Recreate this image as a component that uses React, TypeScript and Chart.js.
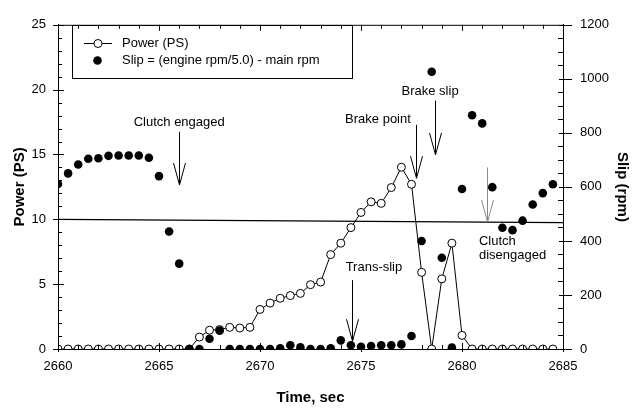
import React, { useEffect, useRef } from "react";
import { Chart, registerables } from "chart.js";

Chart.register(...registerables);

// ---- data ----
const times = [
  2660, 2660.5, 2661, 2661.5, 2662, 2662.5, 2663, 2663.5, 2664, 2664.5,
  2665, 2665.5, 2666, 2666.5, 2667, 2667.5, 2668, 2668.5, 2669, 2669.5,
  2670, 2670.5, 2671, 2671.5, 2672, 2672.5, 2673, 2673.5, 2674, 2674.5,
  2675, 2675.5, 2676, 2676.5, 2677, 2677.5, 2678, 2678.5, 2679, 2679.5,
  2680, 2680.5, 2681, 2681.5, 2682, 2682.5, 2683, 2683.5, 2684, 2684.5,
];
const powerPS = [
  0, 0, 0, 0, 0, 0, 0, 0, 0, 0,
  0, 0, 0, 0, 0.92, 1.45, 1.5, 1.67, 1.62, 1.67,
  3.05, 3.54, 3.91, 4.12, 4.29, 4.96, 5.16, 7.28, 8.16, 9.36,
  10.53, 11.35, 11.23, 12.45, 14.02, 12.7, 5.91, 0, 5.41, 8.16,
  1.05, 0, 0, 0, 0, 0, 0, 0, 0, 0,
];
const slipRpm = [
  611, 650, 683, 704, 706, 715, 716, 716, 716, 708,
  640, 435, 316, 0, 0, 38, 68, 0, 0, 0,
  0, 0, 3, 14, 6, 0, 0, 3, 32, 14,
  8, 11, 14, 14, 17, 48, 400, 1026, 338, 5,
  592, 865, 835, 599, 449, 440, 475, 535, 577, 610,
];
const refLineTimes = [2660, 2685];
const refLinePower = [10.0, 9.75];

const timeRange = [2660, 2685];
const powerRange = [0, 25];
const slipRange = [0, 1200];
const timeStep = 5;
const powerStep = 5;
const slipStep = 200;

const seriesLabels = ["Power (PS)", "Slip = (engine rpm/5.0) - main rpm"];
const axisTitles = { x: "Time, sec", y: "Power (PS)", y1: "Slip (rpm)" };

// annotations in data coordinates (time, power)
const notes = [
  { lines: ["Clutch engaged"], t: 2666, p: [17.5], align: "center", ax: 2666, a1: 16.75, a2: 12.65, color: "#000" },
  { lines: ["Brake point"], t: 2675.84, p: [17.74], align: "center", ax: 2677.72, a1: 17.29, a2: 13.17, color: "#000" },
  { lines: ["Brake slip"], t: 2678.42, p: [19.9], align: "center", ax: 2678.66, a1: 19.16, a2: 14.97, color: "#000" },
  { lines: ["Trans-slip"], t: 2675.64, p: [6.29], align: "center", ax: 2674.57, a1: 5.31, a2: 0.6, color: "#000" },
  { lines: ["Clutch", "disengaged"], t: 2680.84, p: [8.31, 7.19], align: "left", ax: 2681.22, a1: 14.0, a2: 9.8, color: "#8a8a8a" },
];

const FONT = "'Liberation Sans', Arial, Helvetica, sans-serif";

const decorPlugin = {
  id: "decor",
  afterDraw(chart: any) {
    const ctx = chart.ctx;
    const { left, right, top, bottom } = chart.chartArea;
    const xs = chart.scales.x;
    const ys = chart.scales.y;
    const y1 = chart.scales.y1;
    ctx.save();
    ctx.strokeStyle = "#000";
    ctx.lineWidth = 1;
    // top border
    ctx.beginPath();
    ctx.moveTo(left, top + 0.5);
    ctx.lineTo(right, top + 0.5);
    ctx.stroke();
    // x ticks (bottom + top)
    for (let v = timeRange[0]; v <= timeRange[1]; v += 1) {
      const px = Math.round(xs.getPixelForValue(v)) + 0.5;
      const major = (v - timeRange[0]) % timeStep === 0;
      ctx.beginPath();
      ctx.moveTo(px, bottom + (major ? 3 : 0));
      ctx.lineTo(px, bottom - (major ? 6 : 4));
      ctx.moveTo(px, top);
      ctx.lineTo(px, top + (major ? 6 : 4));
      ctx.stroke();
    }
    // left ticks
    for (let v = powerRange[0]; v <= powerRange[1]; v += 1) {
      const py = Math.round(ys.getPixelForValue(v)) + 0.5;
      const major = v % powerStep === 0;
      ctx.beginPath();
      ctx.moveTo(left - (major ? 5 : 0), py);
      ctx.lineTo(left + (major ? 6 : 4), py);
      ctx.stroke();
    }
    // right ticks
    for (let v = slipRange[0]; v <= slipRange[1]; v += 50) {
      const py = Math.round(y1.getPixelForValue(v)) + 0.5;
      const major = v % slipStep === 0;
      ctx.beginPath();
      ctx.moveTo(right - (major ? 4 : 5), py);
      ctx.lineTo(right + (major ? 9 : 0), py);
      ctx.stroke();
    }
    // annotations
    ctx.font = `13px ${FONT}`;
    ctx.textBaseline = "middle";
    for (const n of notes) {
      ctx.fillStyle = "#000";
      ctx.textAlign = n.align as CanvasTextAlign;
      n.lines.forEach((s, i) => {
        ctx.fillText(s, xs.getPixelForValue(n.t), ys.getPixelForValue(n.p[i]));
      });
      const ax = Math.round(xs.getPixelForValue(n.ax)) + 0.5;
      const ya = ys.getPixelForValue(n.a1);
      const yb = ys.getPixelForValue(n.a2);
      ctx.strokeStyle = n.color;
      ctx.beginPath();
      ctx.moveTo(ax, ya);
      ctx.lineTo(ax, yb);
      ctx.moveTo(ax - 6, yb - 22);
      ctx.lineTo(ax, yb);
      ctx.lineTo(ax + 6, yb - 22);
      ctx.stroke();
    }
    // legend
    ctx.strokeStyle = "#000";
    ctx.lineWidth = 1;
    ctx.strokeRect(72.5, 25.5, 280, 53);
    const ds = chart.data.datasets;
    ctx.beginPath();
    ctx.moveTo(84, 43.5);
    ctx.lineTo(112, 43.5);
    ctx.stroke();
    ctx.beginPath();
    ctx.arc(98, 43.5, 4, 0, Math.PI * 2);
    ctx.fillStyle = "#fff";
    ctx.fill();
    ctx.stroke();
    ctx.beginPath();
    ctx.arc(97.5, 60.5, 4.3, 0, Math.PI * 2);
    ctx.fillStyle = "#000";
    ctx.fill();
    ctx.fillStyle = "#000";
    ctx.textAlign = "left";
    ctx.fillText(ds[1].label, 122, 43.5);
    ctx.fillText(ds[0].label, 122, 60.5);
    ctx.restore();
  },
};

const plain = (v: any) => String(v);

export default function App() {
  const ref = useRef<HTMLCanvasElement>(null);
  useEffect(() => {
    if (!ref.current) return;
    Chart.defaults.font.family = FONT;
    Chart.defaults.color = "#000";
    const chart = new Chart(ref.current, {
      type: "scatter",
      data: {
        datasets: [
          {
            label: seriesLabels[1],
            data: times.map((t, i) => ({ x: t, y: slipRpm[i] })),
            yAxisID: "y1",
            pointRadius: 4.3,
            pointBackgroundColor: "#000",
            pointBorderColor: "#000",
            pointBorderWidth: 0,
            showLine: false,
            order: 0,
          },
          {
            label: seriesLabels[0],
            data: times.map((t, i) => ({ x: t, y: powerPS[i] })),
            yAxisID: "y",
            showLine: true,
            borderColor: "#000",
            borderWidth: 1,
            pointRadius: 4,
            pointBackgroundColor: "#fff",
            pointBorderColor: "#000",
            pointBorderWidth: 1,
            order: 1,
          },
          {
            label: "ref",
            data: refLineTimes.map((t, i) => ({ x: t, y: refLinePower[i] })),
            yAxisID: "y",
            showLine: true,
            borderColor: "#000",
            borderWidth: 1.3,
            pointRadius: 0,
            order: 2,
          },
        ],
      },
      options: {
        animation: false,
        responsive: false,
        devicePixelRatio: 1,
        layout: { padding: { top: 14, left: 0, right: 0, bottom: 0 } },
        plugins: { legend: { display: false }, tooltip: { enabled: false } },
        scales: {
          x: {
            type: "linear",
            min: timeRange[0],
            max: timeRange[1],
            grid: { display: false, drawTicks: false },
            border: { display: true, color: "#000", width: 1 },
            ticks: { stepSize: timeStep, padding: 10, font: { size: 13 }, color: "#000", callback: plain },
            title: { display: true, text: axisTitles.x, font: { size: 15, weight: "bold" }, padding: { top: 4, bottom: 5 }, color: "#000" },
            afterFit: (s: any) => { s.height = 63; },
          },
          y: {
            type: "linear",
            position: "left",
            min: powerRange[0],
            max: powerRange[1],
            grid: { display: false, drawTicks: false },
            border: { display: true, color: "#000", width: 1 },
            ticks: { stepSize: powerStep, padding: 12, font: { size: 13 }, color: "#000", callback: plain },
            title: { display: true, text: axisTitles.y, font: { size: 15, weight: "bold" }, padding: { top: 11, bottom: 0 }, color: "#000" },
            afterFit: (s: any) => { s.width = 58; },
          },
          y1: {
            type: "linear",
            position: "right",
            min: slipRange[0],
            max: slipRange[1],
            grid: { display: false, drawTicks: false },
            border: { display: true, color: "#000", width: 1 },
            ticks: { stepSize: slipStep, padding: 17, font: { size: 13 }, color: "#000", callback: plain },
            title: { display: true, text: axisTitles.y1, font: { size: 15, weight: "bold" }, padding: { top: 7, bottom: 0 }, color: "#000" },
            afterFit: (s: any) => { s.width = 75; },
          },
        },
      },
      plugins: [decorPlugin],
    });
    return () => chart.destroy();
  }, []);
  return (
    <div style={{ position: "absolute", left: 0, top: 0, width: 638, height: 412, background: "#fff" }}>
      <canvas ref={ref} width={638} height={412} style={{ width: 638, height: 412, display: "block" }} />
    </div>
  );
}
